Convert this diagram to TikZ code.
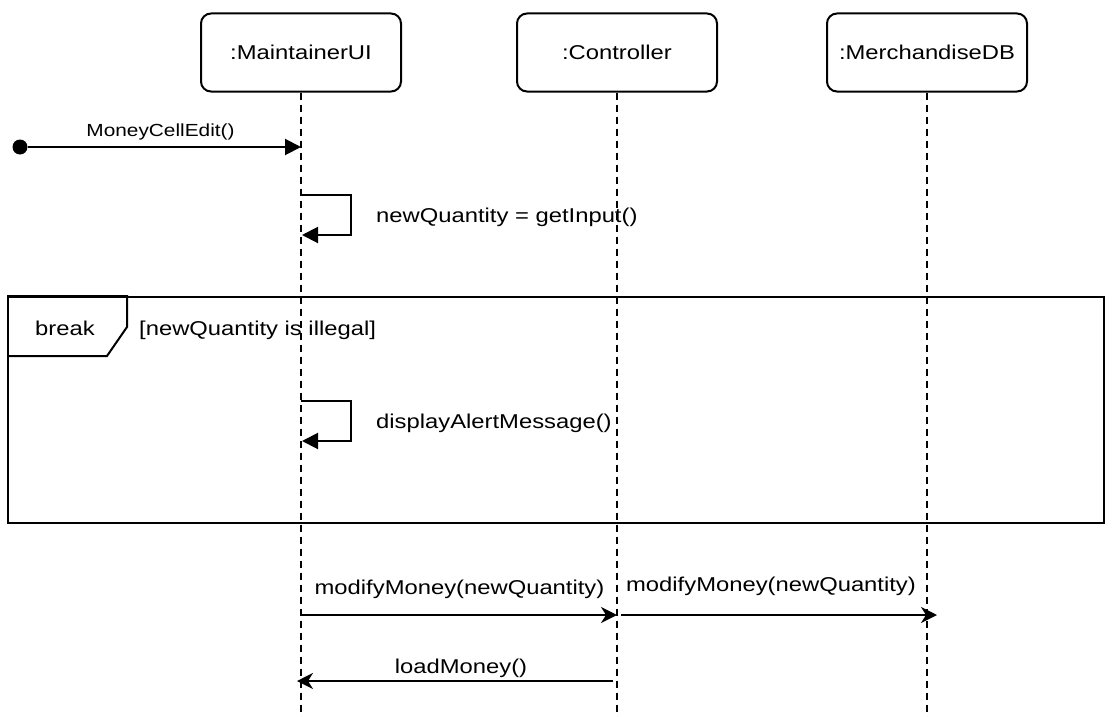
\documentclass[tikz,border=0pt]{standalone}
\usepackage{fontspec}
\setmainfont[FakeStretch=1.19]{Liberation Sans}
\usetikzlibrary{arrows.meta}
\tikzset{
	objeto/.style={draw, line width=2pt, rounded corners=10pt, minimum width=200pt, minimum height=78pt, font=\fontsize{20}{24}\selectfont},
	vida/.style={line width=2pt, dash pattern=on 7pt off 5pt},
	llamada/.style={line width=2pt, -{Triangle[length=16pt,width=16pt]}},
	mensaje/.style={line width=2pt, -{Stealth[length=16pt,width=16pt,inset=5pt]}},
	texto/.style={inner sep=0pt, font=\fontsize{20}{24}\selectfont},
	textochico/.style={inner sep=0pt, font=\fontsize{17.5}{21}\selectfont},
	inicio/.style={circle, fill, inner sep=0pt, minimum size=15pt}
}
\begin{document}
\begin{tikzpicture}[x=1pt, y=-1pt]
	\useasboundingbox (0,0) rectangle (1116,717);
	% Objetos y lineas de vida
	\node[objeto] (ui) at (301,52.5) {:MaintainerUI};
	\node[objeto] (ctrl) at (617,52.5) {:Controller};
	\node[objeto] (db) at (927,52.5) {:MerchandiseDB};
	\coordinate (uiFin) at (301,717);
	\coordinate (ctrlFin) at (617,717);
	\coordinate (dbFin) at (927,717);
	\draw[vida] (ui.south) -- (uiFin);
	\draw[vida] (ctrl.south) -- (ctrlFin);
	\draw[vida] (db.south) -- (dbFin);
	
	% Mensaje encontrado
	\node[inicio] (ini) at (20,147) {};
	\coordinate (edit) at (301,147);
	\draw[llamada] (ini) -- (edit);
	\node[textochico, anchor=base] (lblEdit) at (160.5,136) {MoneyCellEdit()};
	
	% Auto mensaje
	\coordinate (inA) at (301,195);
	\coordinate (inB) at (302,235);
	\draw[llamada] (inA) -- ++(50,0) |- (inB);
	\node[texto, anchor=base west] (lblInput) at (376,222) {newQuantity = getInput()};
	
	% Fragmento break
	\node[draw, line width=2pt, minimum width=1096pt, minimum height=226pt, anchor=north west, inner sep=0pt] (marco) at (7,296) {};
	\draw[line width=2pt] (marco.north west) -- ++(120,0) -- ++(0,31) -- ++(-20,29) -- ++(-100,0);
	\node[texto, anchor=base] (lblBreak) at (65,335) {break};
	\node[texto, anchor=base west] (lblCond) at (139,335) {[newQuantity is illegal]};
	\coordinate (alA) at (301,401);
	\coordinate (alB) at (302,441);
	\draw[llamada] (alA) -- ++(50,0) |- (alB);
	\node[texto, anchor=base west] (lblAlert) at (376,428) {displayAlertMessage()};
	
	% Mensajes entre objetos
	\coordinate (modA) at (302,615);
	\coordinate (modB) at (617,615);
	\coordinate (modC) at (621,615);
	\coordinate (modD) at (937,615);
	\draw[mensaje] (modA) -- (modB);
	\draw[mensaje] (modC) -- (modD);
	\node[texto, anchor=base] (lblMod1) at (459.5,594) {modifyMoney(newQuantity)};
	\node[texto, anchor=base] (lblMod2) at (771,591) {modifyMoney(newQuantity)};
	\coordinate (loadA) at (613,681);
	\coordinate (loadB) at (297,681);
	\draw[mensaje] (loadA) -- (loadB);
	\node[texto, anchor=base] (lblLoad) at (461,673) {loadMoney()};
\end{tikzpicture}
\end{document}
